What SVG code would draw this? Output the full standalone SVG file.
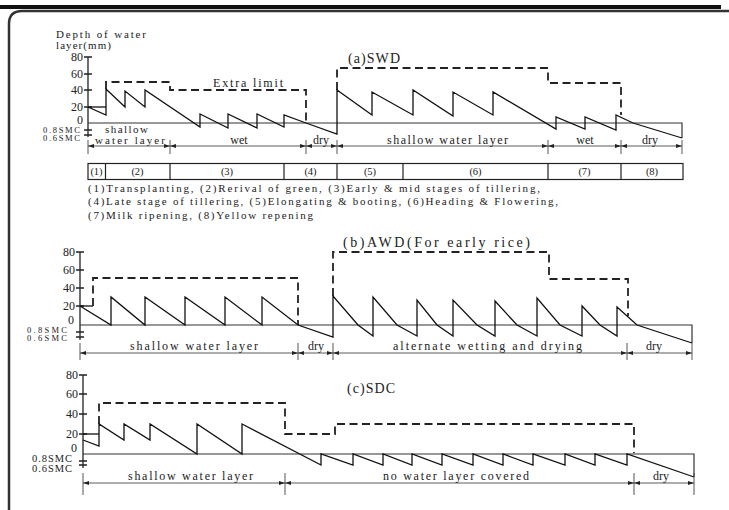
<svg xmlns="http://www.w3.org/2000/svg" width="729" height="510" viewBox="0 0 729 510">
<defs>
<marker id="ar" markerUnits="userSpaceOnUse" markerWidth="7" markerHeight="5" refX="6" refY="2" orient="auto-start-reverse">
<path d="M0,0 L6,2 L0,4 z" fill="#222"/>
</marker>
<style>
.ax{stroke:#222;stroke-width:1.3;fill:none}
.zero{stroke:#333;stroke-width:1.2;fill:none}
.wl{stroke:#111;stroke-width:1.3;fill:none;stroke-linejoin:miter}
.lim{stroke:#222;stroke-width:1.8;stroke-dasharray:8,4.5;fill:none}
.dim{stroke:#333;stroke-width:0.8;marker-start:url(#ar);marker-end:url(#ar)}
.ext{stroke:#444;stroke-width:0.9}
.box{stroke:#222;stroke-width:1.2;fill:none}
text{font-family:"Liberation Serif",serif;fill:#222}
.num{font-size:12px;text-anchor:end}
.lab{font-size:12px;text-anchor:middle}
.leg{font-size:11px}
.stg{font-size:10.5px;text-anchor:middle}
.ttl{font-size:14px}
.smc{font-size:8.5px}
</style>
</defs>
<rect width="729" height="510" fill="#fff"/>
<g id="frame">
<rect x="0" y="5" width="721" height="4" fill="#111"/>
<path d="M9,510 V24 Q9,11 22,11 H729" fill="none" stroke="#333" stroke-width="2.5"/>
</g>

<g id="panel-a">
<text x="56" y="38" font-size="11" textLength="90" lengthAdjust="spacing">Depth of water</text>
<text x="56" y="48.5" font-size="11" textLength="55" lengthAdjust="spacing">layer(mm)</text>
<text x="348" y="63" class="ttl" textLength="52" lengthAdjust="spacing">(a)SWD</text>
<g id="axis-a">
<path class="ax" d="M88,57 V137 M84,57 H92 M84,74 H92 M84,90 H92 M84,107 H92 M84,130 H92 M84,135 H92"/>
<text class="num" x="83" y="61" font-size="11.5">80</text>
<text class="num" x="83" y="78" font-size="11.5">60</text>
<text class="num" x="83" y="94" font-size="11.5">40</text>
<text class="num" x="83" y="111" font-size="11.5">20</text>
<text class="num" x="83" y="124" font-size="11.5">0</text>
<text class="smc" x="43" y="132.5" textLength="37" lengthAdjust="spacing">0.8SMC</text>
<text class="smc" x="43" y="140.5" textLength="37" lengthAdjust="spacing">0.6SMC</text>
</g>
<path class="zero" d="M88,123 H682 V138"/>
<path class="wl" d="M88,107 H106"/>
<path class="lim" d="M106,89 V82 H170 V90 H306 V123"/>
<path class="lim" d="M337,90 V68 H548 V83 H621 V115"/>
<text x="213" y="87" font-size="12" textLength="70" lengthAdjust="spacing">Extra limit</text>
<path class="wl" d="M88,107 L106,115 L106,89 L125,107 L125,91 L145,107 L145,90 L200,127 L200,114 L228,128 L228,114 L257,128 L257,114 L284,127 L284,115 L306,123 L337,134 L337,90 L372,115 L372,92 L413,115 L413,90 L453,116 L453,92 L493,115 L493,92 L556,129 L556,117 L585,129 L585,117 L616,130 L616,115 L633,123 L682,138"/>
<g id="dims-a">
<path class="ext" d="M88,140 V154 M170,140 V154 M306,140 V154 M337,140 V154 M548,140 V154 M621,140 V154 M682,140 V154"/>
<line class="dim" x1="88" y1="146" x2="170" y2="146"/>
<line class="dim" x1="170" y1="146" x2="306" y2="146"/>
<line class="dim" x1="306" y1="146" x2="337" y2="146"/>
<line class="dim" x1="337" y1="146" x2="548" y2="146"/>
<line class="dim" x1="548" y1="146" x2="621" y2="146"/>
<line class="dim" x1="621" y1="146" x2="682" y2="146"/>
<text x="105" y="133" font-size="11" textLength="43" lengthAdjust="spacing">shallow</text>
<text x="95" y="144" font-size="11" textLength="70" lengthAdjust="spacing">water layer</text>
<text class="lab" x="239" y="144">wet</text>
<text class="lab" x="321" y="144">dry</text>
<text x="387" y="144" font-size="12" textLength="121" lengthAdjust="spacing">shallow water layer</text>
<text class="lab" x="585" y="144">wet</text>
<text class="lab" x="650" y="144">dry</text>
</g>
<g id="stages">
<rect class="box" x="88" y="163.5" width="595" height="16"/>
<path class="box" d="M105.5,163.5 V179.5 M170,163.5 V179.5 M284,163.5 V179.5 M337,163.5 V179.5 M403,163.5 V179.5 M548,163.5 V179.5 M621,163.5 V179.5"/>
<text class="stg" x="96.5" y="175">(1)</text>
<text class="stg" x="137.5" y="175">(2)</text>
<text class="stg" x="227" y="175">(3)</text>
<text class="stg" x="310.5" y="175">(4)</text>
<text class="stg" x="370" y="175">(5)</text>
<text class="stg" x="475.5" y="175">(6)</text>
<text class="stg" x="584.5" y="175">(7)</text>
<text class="stg" x="652" y="175">(8)</text>
</g>
<g id="legend">
<text class="leg" x="88" y="192" textLength="452" lengthAdjust="spacing">(1)Transplanting, (2)Rerival of green, (3)Early &amp; mid stages of tillering,</text>
<text class="leg" x="88" y="205" textLength="470" lengthAdjust="spacing">(4)Late stage of tillering, (5)Elongating &amp; booting, (6)Heading &amp; Flowering,</text>
<text class="leg" x="88" y="219" textLength="225" lengthAdjust="spacing">(7)Milk ripening, (8)Yellow repening</text>
</g>
</g>

<g id="panel-b">
<text x="343" y="247" class="ttl" textLength="187" lengthAdjust="spacing">(b)AWD(For early rice)</text>
<g id="axis-b">
<path class="ax" d="M80,252 V340 M76,252 H84 M76,270 H84 M76,288 H84 M76,306 H84 M76,332 H84 M76,337 H84"/>
<text class="num" x="75" y="256">80</text>
<text class="num" x="75" y="274">60</text>
<text class="num" x="75" y="292">40</text>
<text class="num" x="75" y="310">20</text>
<text class="num" x="74" y="324">0</text>
<text class="smc" x="27" y="333" textLength="40" lengthAdjust="spacing">0.8SMC</text>
<text class="smc" x="27" y="341" textLength="40" lengthAdjust="spacing">0.6SMC</text>
</g>
<path class="zero" d="M80,325 H692 V343"/>
<path class="wl" d="M80,306 H93"/>
<path class="lim" d="M93,306 V278 H298 V325"/>
<path class="lim" d="M333,296 V252 H549 V279 H628 V316"/>
<path class="wl" d="M80,306 L111,325 L111,297 L145,325 L145,297 L185,325 L185,297 L225,325 L225,297 L262,325 L262,297 L298,325 L333,337 L333,296 L358,325 L373,336 L373,297 L397,325 L417,336 L417,300 L437,325 L453,336 L453,300 L477,325 L495,336 L495,301 L517,325 L537,336 L537,298 L560,325 L582,336 L582,306 L600,325 L617,336 L617,307 L637,325 L692,343"/>
<g id="dims-b">
<path class="ext" d="M80,343 V360 M298,343 V360 M333,343 V360 M627,343 V360 M692,343 V360"/>
<line class="dim" x1="80" y1="353" x2="298" y2="353"/>
<line class="dim" x1="298" y1="353" x2="333" y2="353"/>
<line class="dim" x1="333" y1="353" x2="627" y2="353"/>
<line class="dim" x1="627" y1="353" x2="692" y2="353"/>
<text x="130" y="350" font-size="12" textLength="128" lengthAdjust="spacing">shallow water layer</text>
<text class="lab" x="316" y="350">dry</text>
<text x="393" y="350" font-size="12" textLength="189" lengthAdjust="spacing">alternate wetting and drying</text>
<text class="lab" x="654" y="350">dry</text>
</g>
</g>

<g id="panel-c">
<text x="347" y="393" class="ttl" textLength="48" lengthAdjust="spacing">(c)SDC</text>
<g id="axis-c">
<path class="ax" d="M83,375 V468 M79,375 H87 M79,394 H87 M79,414 H87 M79,434 H87 M79,461 H87 M79,465 H87"/>
<text class="num" x="78" y="379">80</text>
<text class="num" x="78" y="398">60</text>
<text class="num" x="78" y="418">40</text>
<text class="num" x="78" y="438">20</text>
<text class="num" x="77" y="452">0</text>
<text x="32" y="462" font-size="10.5" textLength="40" lengthAdjust="spacing">0.8SMC</text>
<text x="32" y="472" font-size="10.5" textLength="40" lengthAdjust="spacing">0.6SMC</text>
</g>
<path class="zero" d="M83,454 H694 V477"/>
<path class="wl" d="M83,434 H99"/>
<path class="lim" d="M99,424 V403 H285 V434 H335 V424 H634 V453"/>
<path class="wl" d="M83,440 L99,446 L99,424 L124,440 L124,424 L150,440 L150,424 L197,454 L197,424 L242,454 L242,424 L321,465 L321,454 L353,465 L353,454 L383,465 L383,454 L412,465 L412,454 L442,465 L442,454 L473,465 L473,454 L503,465 L503,454 L533,465 L533,454 L565,465 L565,454 L595,465 L595,454 L627,465 L627,454 L694,477"/>
<g id="dims-c">
<path class="ext" d="M83,473 V495 M285,473 V495 M634,473 V495 M694,473 V495"/>
<line class="dim" x1="83" y1="483" x2="285" y2="483"/>
<line class="dim" x1="285" y1="483" x2="634" y2="483"/>
<line class="dim" x1="634" y1="483" x2="694" y2="483"/>
<text x="128" y="480" font-size="12" textLength="125" lengthAdjust="spacing">shallow water layer</text>
<text x="383" y="480" font-size="12" textLength="146" lengthAdjust="spacing">no water layer covered</text>
<text class="lab" x="661" y="480">dry</text>
</g>
</g>
</svg>
